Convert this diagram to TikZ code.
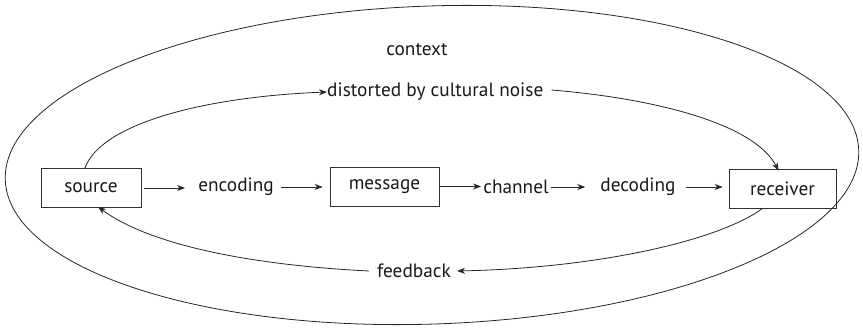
\documentclass[tikz,border=0pt]{standalone}
\usepackage{fontspec}
\setmainfont{PT Sans}
\usetikzlibrary{arrows.meta}
\begin{document}
\begin{tikzpicture}[x=1pt,y=-1pt,
  every node/.style={font=\fontsize{19.3}{21}\selectfont, text=black!90},
  box/.style={draw=black!80, line width=0.8pt, minimum width=100pt, minimum height=39pt, inner sep=0pt},
  lbl/.style={inner sep=0pt},
  conn/.style={draw=black!85, line width=0.8pt, -{Stealth[length=8pt,width=6pt,inset=2.5pt]}},
  plain/.style={draw=black!85, line width=0.8pt}]
\useasboundingbox (0,0) rectangle (863,328);
% context ellipse
\draw[plain] (432,165) ellipse [x radius=427, y radius=159, rotate=2];
% nodes
\node[box, minimum width=100pt] (source) at (91,188) {source};
\node[box, minimum width=109pt] (message) at (384.5,186.5) {message};
\node[box, minimum width=107pt] (receiver) at (782.5,188.5) {receiver};
\node[lbl] (encoding) at (236,187) {encoding};
\node[lbl] (channel) at (516,187) {channel};
\node[lbl] (decoding) at (638,187) {decoding};
\node[lbl] (context) at (417,50) {context};
\node[lbl, anchor=west] (noise) at (327,92) {distorted by cultural noise};
\node[lbl] (feedback) at (414,271) {feedback};
% main chain
\draw[conn, shorten <=3pt, shorten >=13pt] (source.east) -- (source.east -| encoding.west);
\draw[conn, shorten <=7pt, shorten >=7pt] (encoding.east) -- (encoding.east -| message.west);
\draw[conn, shorten <=1pt, shorten >=2pt] (message.east) -- (message.east -| channel.west);
\draw[conn, shorten <=2pt, shorten >=15pt] (channel.east) -- (channel.east -| decoding.west);
\draw[conn, shorten <=10pt, shorten >=6pt] (decoding.east) -- (decoding.east -| receiver.west);
% distortion loop
\draw[conn] ([xshift=-6pt]source.north) .. controls (100,125) and (200,97) .. (noise.west);
\draw[conn] ([xshift=8pt,yshift=2pt]noise.east) .. controls (660,99) and (755,125) .. ([xshift=-4pt,yshift=-2pt]receiver.north);
% feedback loop
\draw[conn] ([xshift=-20pt]receiver.south) .. controls (720,240) and (600,268) .. ([xshift=6pt]feedback.east);
\draw[conn] ([xshift=-8pt]feedback.west) .. controls (250,265) and (150,245) .. ([xshift=7pt,yshift=1pt]source.south);
\end{tikzpicture}
\end{document}
